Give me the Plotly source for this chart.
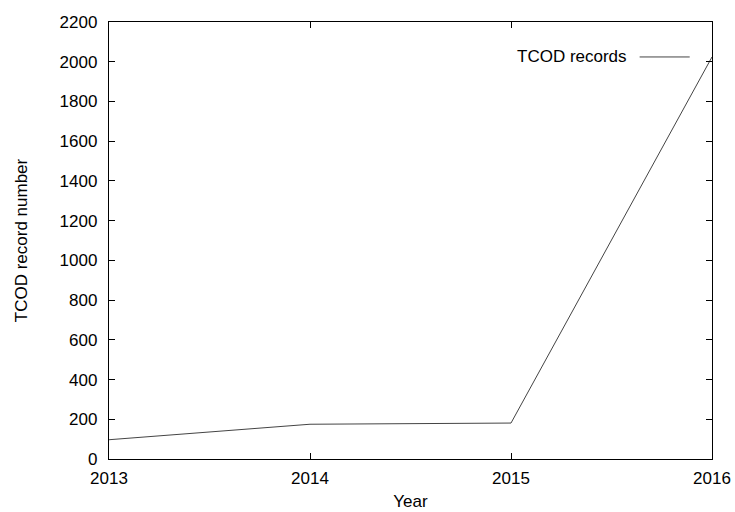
import plotly.graph_objects as go

years = [2013, 2014, 2015, 2016]
records = [97, 175, 181, 2024]
series_name = "TCOD records"
x_title = "Year"
y_title = "TCOD record number"

font = dict(family="Liberation Sans, Arial, sans-serif", size=17, color="black")

fig = go.Figure()
fig.add_trace(go.Scatter(x=years, y=records, mode="lines", name=series_name,
                         line=dict(color="#444444", width=1), showlegend=False,
                         cliponaxis=False))

axis_common = dict(showgrid=False, zeroline=False, showline=True, linecolor="black",
                   linewidth=1.3, mirror="ticks", ticks="inside", ticklen=6,
                   tickwidth=1.3, tickcolor="black", tickfont=font, automargin=False)

fig.update_xaxes(range=[2013, 2016], dtick=1, tick0=2013, ticklabelstandoff=3,
                 title=dict(text=x_title, font=font, standoff=8), **axis_common)
fig.update_yaxes(range=[0, 2200], dtick=200, tick0=0, ticklabelstandoff=7,
                 title=dict(text=y_title, font=font, standoff=27), **axis_common)

# legend (gnuplot style: text then sample line)
fig.add_annotation(xref="paper", yref="paper", x=0.863, y=0.92, text=series_name,
                   showarrow=False, xanchor="right", yanchor="middle", font=font)
fig.add_shape(type="line", xref="paper", yref="paper", x0=0.88, x1=0.963,
              y0=0.92, y1=0.92, line=dict(color="#444444", width=1))

fig.update_layout(width=735, height=512, plot_bgcolor="white", paper_bgcolor="white",
                  margin=dict(l=109, r=23, t=22, b=53), font=font)

fig.write_html("out.html", config={"displayModeBar": False},
               post_script="document.body.style.margin='0';")
